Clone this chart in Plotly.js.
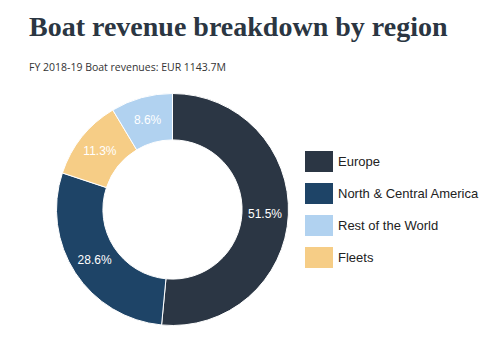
<!DOCTYPE html>
<html><head><meta charset="utf-8">
<script src="https://cdn.plot.ly/plotly-3.0.1.min.js"></script>
<style>html,body{margin:0;padding:0;background:#fff}#chart{width:480px;height:345px}</style>
</head><body><div id="chart"></div>
<script>
// Data (slice order clockwise from 12 o'clock)
var regions = ["Europe", "North & Central America", "Fleets", "Rest of the World"];
var shares = [51.5, 28.6, 11.3, 8.6];
var colors = ["#2b3644", "#1e4467", "#f6cd86", "#b1d2f0"];
// Legend order
var legendOrder = ["Europe", "North & Central America", "Rest of the World", "Fleets"];

var trace = {
  type: "pie",
  labels: regions,
  values: shares,
  hole: 0.6,
  sort: false,
  direction: "clockwise",
  rotation: 0,
  marker: {colors: colors, line: {color: "#ffffff", width: 1}},
  texttemplate: "%{value:.1f}%",
  textposition: "inside",
  insidetextorientation: "horizontal",
  textfont: {family: "Liberation Sans, Arial, sans-serif", size: 12, color: "#ffffff"},
  hoverinfo: "label+percent",
  showlegend: false,
  domain: {x: [0.1177, 0.601], y: [0.0565, 0.729]}
};

var shapes = [], annotations = [];
annotations.push({text: "<b>Boat revenue breakdown by region</b>", xref: "paper", yref: "paper",
  x: 27/480, y: 1 - 9/345, xanchor: "left", yanchor: "top", showarrow: false,
  font: {family: "Liberation Serif, serif", size: 28, color: "#2b3642"}});
annotations.push({text: "FY 2018-19 Boat revenues: EUR 1143.7M", xref: "paper", yref: "paper",
  x: 27/480, y: 1 - 67/345, xanchor: "left", yanchor: "middle", showarrow: false,
  font: {family: "Open Sans, sans-serif", size: 10.5, color: "#333333"}});

legendOrder.forEach(function(name, i) {
  var c = colors[regions.indexOf(name)];
  var top = 151 + i * 32;
  shapes.push({type: "rect", xref: "paper", yref: "paper",
    x0: 305/480, x1: 333/480, y0: 1 - (top + 21)/345, y1: 1 - top/345,
    fillcolor: c, line: {color: "#ffffff", width: 0}});
  annotations.push({text: name, xref: "paper", yref: "paper",
    x: 336/480, y: 1 - (top + 10.5)/345, xanchor: "left", yanchor: "middle", showarrow: false,
    font: {family: "Liberation Sans, Arial, sans-serif", size: 13, color: "#222222"}});
});

var layout = {
  width: 480, height: 345,
  margin: {l: 0, r: 0, t: 0, b: 0},
  paper_bgcolor: "#ffffff",
  shapes: shapes,
  annotations: annotations,
  showlegend: false
};
Plotly.newPlot("chart", [trace], layout, {displayModeBar: false, staticPlot: true});
</script></body></html>
